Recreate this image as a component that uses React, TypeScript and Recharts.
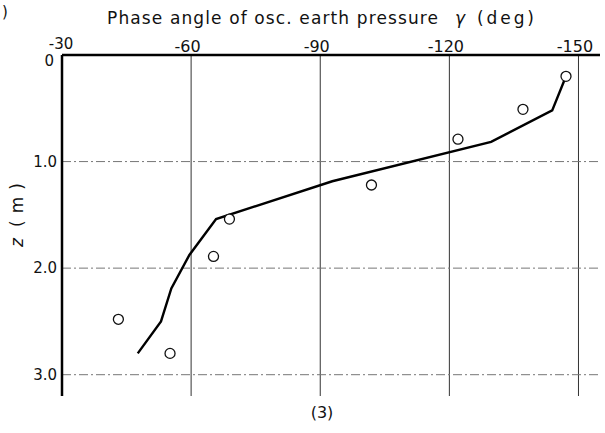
import React from 'react';
import { ScatterChart, Scatter, XAxis, YAxis, ReferenceLine } from 'recharts';

// Measured circles (phase angle deg, depth m)
const circleAngle = [-147.1, -137.1, -122.0, -101.9, -68.9, -65.2, -55.1, -43.1];
const circleDepth = [0.2, 0.51, 0.79, 1.22, 1.54, 1.89, 2.8, 2.48];

// Computed line (phase angle deg, depth m)
const lineAngle = [-147.1, -143.9, -129.7, -92.8, -65.8, -59.6, -55.4, -53.0, -47.6];
const lineDepth = [0.2, 0.52, 0.815, 1.185, 1.54, 1.876, 2.19, 2.5, 2.8];

const xTicks = [-30, -60, -90, -120, -150];
const yTicks = [0, 1, 2, 3];
const xGrid = [-60, -90, -120, -150];
const yGrid = [1, 2, 3];
const xDomain = [-155, -30];
const yDomain = [0, 3.2];

const titleMain = 'Phase angle of osc. earth pressure';
const titleSym = 'γ';
const titleUnit = '(deg)';
const yLabelSym = 'z';
const yLabelUnit = '(m)';
const bottomLabel = '(3)';
const cornerLabel = ')';

const circles = circleAngle.map((a, i) => ({ a, z: circleDepth[i] }));
const linePts = lineAngle.map((a, i) => ({ a, z: lineDepth[i] }));

const FONT = '"DejaVu Sans", sans-serif';

const XTick = (props: any) => {
  const { x, y, payload } = props;
  const first = payload.value === -30;
  return (
    <text x={first ? x - 1 : x - 3.5} y={first ? y - 3 : y} textAnchor="middle" fontFamily={FONT} fontSize={first ? 15 : 16} fill="#111">
      {String(payload.value)}
    </text>
  );
};

const YTick = (props: any) => {
  const { x, y, payload } = props;
  const v = payload.value;
  const label = v === 0 ? '0' : v.toFixed(1);
  return (
    <text
      x={v === 0 ? x - 3 : x}
      y={v === 0 ? y + 6 : y}
      textAnchor="end"
      dominantBaseline="central"
      fontFamily={FONT}
      fontSize={15}
      fill="#111"
    >
      {label}
    </text>
  );
};

const Empty = () => <g />;

const Circle = (props: any) => {
  const { cx, cy } = props;
  return <circle cx={cx} cy={cy} r={5} fill="#fff" stroke="#111" strokeWidth={1.3} />;
};

export default function App() {
  return (
    <div style={{ position: 'absolute', left: 0, top: 0, width: 605, height: 433, background: '#fff' }}>
      <ScatterChart width={605} height={433} margin={{ top: 25, right: 5, bottom: 37, left: 0 }}>
        <XAxis
          type="number"
          dataKey="a"
          orientation="top"
          domain={xDomain}
          reversed
          ticks={xTicks}
          height={30}
          tickLine={false}
          tickSize={0}
          tickMargin={3}
          axisLine={false}
          tick={<XTick />}
          allowDataOverflow
          interval={0}
        />
        <YAxis
          type="number"
          dataKey="z"
          domain={yDomain}
          reversed
          ticks={yTicks}
          width={62}
          tickLine={false}
          tickSize={0}
          tickMargin={5}
          axisLine={false}
          tick={<YTick />}
          allowDataOverflow
          interval={0}
        />
        {xGrid.map((v) => (
          <ReferenceLine key={'x' + v} x={v} stroke="#333" strokeWidth={1} ifOverflow="extendDomain" />
        ))}
        {yGrid.map((v) => (
          <ReferenceLine key={'y' + v} y={v} stroke="#777" strokeWidth={1} strokeDasharray="9 3 2 3" />
        ))}
        <ReferenceLine y={0} stroke="#000" strokeWidth={2.5} />
        <ReferenceLine x={-30} stroke="#000" strokeWidth={2.5} />
        <Scatter
          data={linePts}
          line={{ stroke: '#000', strokeWidth: 2.4 }}
          lineJointType="linear"
          shape={<Empty />}
          isAnimationActive={false}
        />
        <Scatter data={circles} shape={<Circle />} isAnimationActive={false} />
      </ScatterChart>
      <svg
        width={605}
        height={433}
        style={{ position: 'absolute', left: 0, top: 0, pointerEvents: 'none' }}
      >
        <text x={2} y={17} fontFamily={FONT} fontSize={15} fill="#111">{cornerLabel}</text>
        <text x={107} y={24} fontFamily={FONT} fontSize={17} fill="#111" textLength={331} lengthAdjust="spacing">
          {titleMain}
        </text>
        <text x={460} y={24} textAnchor="middle" fontFamily={FONT} fontSize={17} fontStyle="italic" fill="#111">
          {titleSym}
        </text>
        <text x={477} y={24} fontFamily={FONT} fontSize={17} fill="#111" textLength={57} lengthAdjust="spacing">
          {titleUnit}
        </text>
        <g transform="translate(23,215) rotate(-90)">
          <text x={-32} y={0} fontFamily={FONT} fontSize={17} fontStyle="italic" fill="#111">{yLabelSym}</text>
          <text x={-12} y={0} fontFamily={FONT} fontSize={17} fill="#111" textLength={44} lengthAdjust="spacing">{yLabelUnit}</text>
        </g>
        <text x={322} y={418} textAnchor="middle" fontFamily={FONT} fontSize={16} fill="#111">{bottomLabel}</text>
      </svg>
    </div>
  );
}
